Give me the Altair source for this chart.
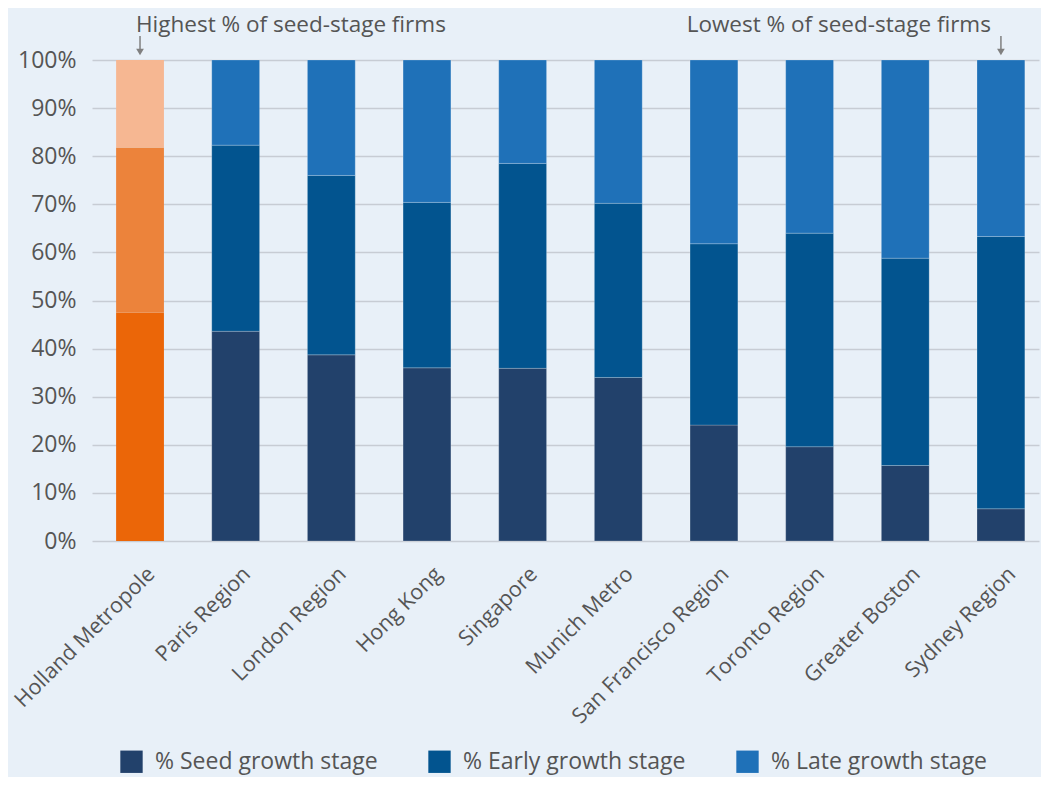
import altair as alt
import pandas as pd

regions = ["Holland Metropole", "Paris Region", "London Region", "Hong Kong", "Singapore",
           "Munich Metro", "San Francisco Region", "Toronto Region", "Greater Boston", "Sydney Region"]
seed = [47.5, 43.6, 38.7, 36.0, 35.9, 34.0, 24.1, 19.6, 15.7, 6.7]
early = [34.3, 38.7, 37.3, 34.4, 42.6, 36.2, 37.7, 44.4, 43.1, 56.6]
late = [18.2, 17.7, 24.0, 29.6, 21.5, 29.8, 38.2, 36.0, 41.2, 36.7]

stages = ["% Seed growth stage", "% Early growth stage", "% Late growth stage"]
blue_colors = ["#22416b", "#02548f", "#1f71b8"]
orange_colors = ["#eb6608", "#ec833b", "#f6b792"]

rows = []
for i, r in enumerate(regions):
    for j, (st, v) in enumerate(zip(stages, [seed[i], early[i], late[i]])):
        rows.append({"region": r, "stage": st, "idx": j, "value": v / 100.0,
                     "hcolor": orange_colors[j]})
df = pd.DataFrame(rows)

FONT = "Open Sans"
TXT = "#555555"

x = alt.X("region:N", sort=regions, title=None,
          scale=alt.Scale(paddingInner=0.5, paddingOuter=0.2, align=0.63),
          axis=alt.Axis(labelAngle=315, labelAlign="right", labelBaseline="top",
                        labelFontSize=21.5, labelColor=TXT, labelFont=FONT,
                        labelPadding=22, labelOffset=4, ticks=False, domain=False,
                        labelLimit=400))
y = alt.Y("value:Q", stack="zero", title=None,
          scale=alt.Scale(domain=[0, 1], nice=False),
          axis=alt.Axis(format=".0%", values=[i / 10 for i in range(11)],
                        labelFontSize=23, labelColor=TXT, labelFont=FONT,
                        labelPadding=16, ticks=False, domain=False,
                        grid=True, gridColor="#c7ccd4", gridWidth=1.5))

base = alt.Chart(df)

blue = base.transform_filter(alt.datum.region != "Holland Metropole").mark_bar(
    stroke="#ffffff", strokeWidth=0.6, strokeOpacity=0.35
).encode(
    x=x, y=y,
    color=alt.Color("stage:N", sort=stages,
                    scale=alt.Scale(domain=stages, range=blue_colors),
                    legend=alt.Legend(title=None, orient="none", direction="horizontal",
                                      legendX=28, legendY=690, symbolType="square",
                                      symbolSize=500, symbolStrokeWidth=0,
                                      labelFontSize=23, labelFont=FONT, labelColor=TXT,
                                      labelOffset=12, columnPadding=50, labelLimit=400)),
    order=alt.Order("idx:Q", sort="ascending"),
)

orange = base.transform_filter(alt.datum.region == "Holland Metropole").mark_bar().encode(
    x=x, y=y,
    fill=alt.Fill("hcolor:N", scale=None),
    order=alt.Order("idx:Q", sort="ascending"),
)

ann_df = pd.DataFrame({
    "region": ["Holland Metropole", "Sydney Region"],
    "label": ["Highest % of seed-stage firms", "Lowest % of seed-stage firms"],
})

txt_hi = alt.Chart(ann_df.iloc[[0]]).mark_text(
    align="left", baseline="alphabetic", dx=-4, fontSize=22.5, font=FONT, color=TXT
).encode(x=alt.X("region:N", sort=regions), y=alt.value(-28), text="label:N")
txt_lo = alt.Chart(ann_df.iloc[[1]]).mark_text(
    align="right", baseline="alphabetic", dx=-10, fontSize=22.5, font=FONT, color=TXT
).encode(x=alt.X("region:N", sort=regions), y=alt.value(-28), text="label:N")

arrow_shaft = alt.Chart(ann_df).mark_rule(color="#808080", strokeWidth=1.5).encode(
    x=alt.X("region:N", sort=regions), y=alt.value(-24), y2=alt.value(-10))
arrow_head = alt.Chart(ann_df).mark_point(
    shape="triangle-down", filled=True, color="#808080", size=60, opacity=1
).encode(x=alt.X("region:N", sort=regions), y=alt.value(-8))

chart = alt.layer(blue, orange, txt_hi, txt_lo, arrow_shaft, arrow_head).properties(
    width=947, height=481,
    autosize=alt.AutoSizeParams(type="none"),
    padding={"left": 84, "top": 52, "right": 2, "bottom": 236},
    background="#e8f0f8",
).configure_view(stroke=None).configure_axis(labelFont=FONT)

chart.save("out.html", embed_options={"renderer": "svg", "actions": False})
